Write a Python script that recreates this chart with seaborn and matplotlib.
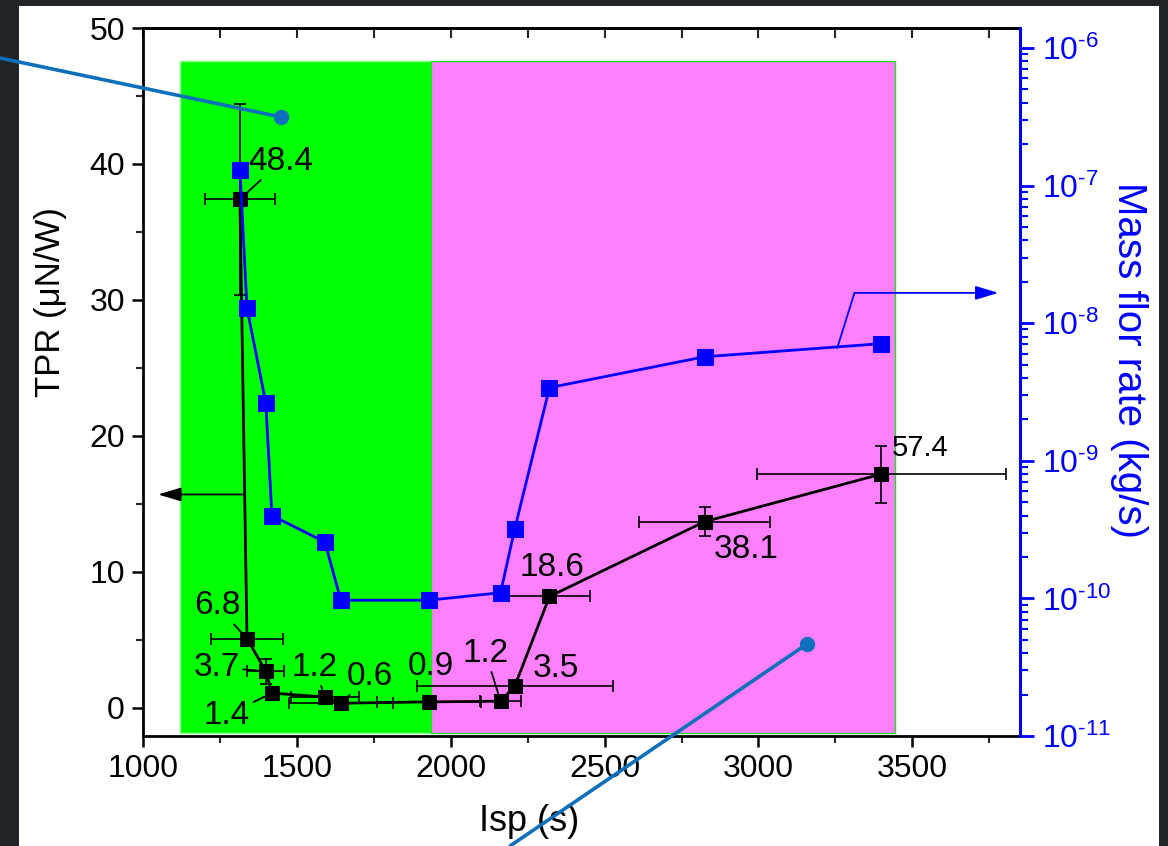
import numpy as np
import pandas as pd
import matplotlib
matplotlib.use("Agg")
import matplotlib.pyplot as plt
import seaborn as sns
from matplotlib.patches import Rectangle
from matplotlib.lines import Line2D
from matplotlib.ticker import (MultipleLocator, LogLocator, NullFormatter, FixedLocator,
                               FuncFormatter)

# ---------------- data ----------------
isp = [1315, 1338, 1399, 1419, 1591, 1643, 1929, 2162, 2208, 2321, 2825, 3399]
tpr = [37.4, 5.1, 2.7, 1.1, 0.8, 0.35, 0.45, 0.5, 1.6, 8.2, 13.7, 17.2]
isp_err = [115, 117, 60, 0, 110, 170, 170, 68, 318, 131, 213, 404]
tpr_err = [7.0, 0, 0.9, 0.4, 0, 0, 0, 0, 0.4, 0, 1.07, 2.1]
value_labels = ["48.4", "6.8", "3.7", "1.4", "1.2", "0.6", "0.9", "1.2", "3.5", "18.6", "38.1", "57.4"]
mass_flow = [1.3e-7, 1.29e-8, 2.63e-9, 4.0e-10, 2.57e-10, 9.7e-11, 9.7e-11, 1.1e-10,
             3.2e-10, 3.4e-9, 5.7e-9, 7.1e-9]

x_ticks = [1000, 1500, 2000, 2500, 3000, 3500]
y_ticks = [0, 10, 20, 30, 40, 50]
mass_ticks = [1e-11, 1e-10, 1e-9, 1e-8, 1e-7, 1e-6]

# shaded regimes (Isp ranges)
green_range = (1120, 1935)
pink_range = (1935, 3445)
region_tpr = (-1.84, 47.6)

# label offsets in pixels (dx, dy) and whether a leader line is drawn
label_offsets = [(41, 38), (-30, 33), (-49, 4), (-45, -22), (-10, 30), (29, 27),
                 (2, 35), (-15, 48), (41, 18), (2, 29), (42, -28), (39, 26)]
label_leader = [True, True, True, True, True, True, False, True, False, False, False, False]
label_sizes = [24] * 11 + [21]

# ---------------- style ----------------
sns.set_theme(style="ticks")
plt.rcParams["font.family"] = ["Liberation Sans", "DejaVu Sans"]
plt.rcParams["mathtext.fontset"] = "custom"
plt.rcParams["mathtext.rm"] = "Liberation Sans"
plt.rcParams["axes.unicode_minus"] = False

BLUE = "#0000ff"
W, H = 1168, 846
fig = plt.figure(figsize=(W / 100, H / 100), dpi=100)
fig.patch.set_facecolor("#212529")
fig.add_artist(Rectangle((19 / W, 0), (1159 - 19) / W, 1 - 6 / H, transform=fig.transFigure,
                         facecolor="white", edgecolor="none", zorder=-10))

ax = fig.add_axes([143 / W, 1 - 736 / H, (1020 - 143) / W, (736 - 28) / H])
ax.set_facecolor("white")
ax2 = ax.twinx()

# regimes
ax.add_patch(Rectangle((green_range[0], region_tpr[0]), green_range[1] - green_range[0],
                       region_tpr[1] - region_tpr[0], facecolor="#00ff00",
                       edgecolor="#88ff88", lw=1, zorder=0))
ax.add_patch(Rectangle((pink_range[0], region_tpr[0]), pink_range[1] - pink_range[0],
                       region_tpr[1] - region_tpr[0], facecolor="#ff80ff",
                       edgecolor="#22dd22", lw=1, zorder=0))

# TPR series
df = pd.DataFrame({"isp": isp, "tpr": tpr, "mass": mass_flow})
ax.errorbar(isp, tpr, xerr=isp_err, yerr=tpr_err, fmt="none", ecolor="black",
            elinewidth=1.2, capsize=4, capthick=1.2, zorder=3)
sns.lineplot(data=df, x="isp", y="tpr", ax=ax, color="black", marker="s", markersize=10,
             markeredgecolor="black", lw=2, sort=False, estimator=None, zorder=4)

for xi, yi, lab, (dx, dy), lead, fs in zip(isp, tpr, value_labels, label_offsets,
                                           label_leader, label_sizes):
    ap = dict(arrowstyle="-", color="black", lw=1.3, shrinkA=0, shrinkB=6) if lead else None
    ax.annotate(lab, xy=(xi, yi), xytext=(dx, dy), textcoords="offset pixels",
                ha="center", va="center", fontsize=fs, color="black",
                arrowprops=ap, zorder=6)

# left-pointing arrow for TPR axis
tpr_arrow_y = 15.7
ax.annotate("", xy=(1049, tpr_arrow_y), xytext=(1331, tpr_arrow_y),
            arrowprops=dict(arrowstyle="-|>,head_length=1.0,head_width=0.3", color="black",
                            lw=1.3, mutation_scale=14, shrinkA=0, shrinkB=0), zorder=5)

# mass flow series
ax2.set_yscale("log")
sns.lineplot(data=df, x="isp", y="mass", ax=ax2, color=BLUE, marker="s", markersize=11,
             markeredgecolor=BLUE, lw=2, sort=False, estimator=None, zorder=5)

# right-pointing arrow for mass flow axis
mf_arrow_start = (3256, 6.6e-9)
mf_arrow_corner = (3312, 1.66e-8)
mf_arrow_end = (3780, 1.66e-8)
ax2.plot([mf_arrow_start[0], mf_arrow_corner[0]], [mf_arrow_start[1], mf_arrow_corner[1]],
         color=BLUE, lw=1.3)
ax2.annotate("", xy=mf_arrow_end, xytext=mf_arrow_corner,
             arrowprops=dict(arrowstyle="-|>,head_length=1.0,head_width=0.3", color=BLUE,
                             lw=1.3, mutation_scale=14, shrinkA=0, shrinkB=0))

# ---------------- axes ----------------
ax.set_xlim(1000, 3850)
ax.set_ylim(-2.06, 50)
ax2.set_ylim(1e-11, 10 ** -5.855)
ax2.set_xlim(1000, 3850)

ax.xaxis.set_major_locator(FixedLocator(x_ticks))
ax.xaxis.set_minor_locator(MultipleLocator(250))
ax.yaxis.set_major_locator(FixedLocator(y_ticks))
ax.yaxis.set_minor_locator(MultipleLocator(5))

ax.tick_params(axis="both", which="major", direction="out", length=8, width=1.8,
               labelsize=23, colors="black", pad=5)
ax.tick_params(axis="both", which="minor", direction="out", length=5, width=1.5)
ax.tick_params(axis="y", right=False)
ax.tick_params(axis="x", top=False)

top = ax.secondary_xaxis("top")
top.xaxis.set_major_locator(MultipleLocator(250))
top.tick_params(axis="x", which="both", direction="in", length=7, width=1.5, labeltop=False)
top.spines["top"].set_linewidth(2)

for s in ["left", "bottom", "top"]:
    ax.spines[s].set_linewidth(2)
    ax.spines[s].set_color("black")
ax.spines["right"].set_visible(False)


def log_label(v, pos):
    e = int(round(np.log10(v)))
    sign = "\u2010" if e < 0 else ""
    return r"$\mathdefault{10^{%s%d}}$" % (sign, abs(e))


for s in ["left", "bottom", "top"]:
    ax2.spines[s].set_visible(False)
ax2.spines["right"].set_color(BLUE)
ax2.spines["right"].set_linewidth(2.2)
ax2.yaxis.set_major_locator(FixedLocator(mass_ticks))
ax2.yaxis.set_major_formatter(FuncFormatter(log_label))
minor_ticks = [m * t for t in mass_ticks for m in range(2, 10)
               if m * t < 10 ** -5.855]
ax2.yaxis.set_minor_locator(FixedLocator(minor_ticks))
ax2.yaxis.set_minor_formatter(NullFormatter())
ax2.tick_params(axis="y", which="major", direction="out", length=10, width=2,
                colors=BLUE, labelsize=23, pad=6)
ax2.tick_params(axis="y", which="minor", direction="out", length=6, width=1.5, colors=BLUE)
ax2.set_xlabel("")

ax.set_xlabel("Isp (s)", fontsize=26, color="black")
ax.xaxis.set_label_coords((529 - 143) / 877, (736 - 804) / 708)
ax.set_ylabel("TPR (\u03bcN/W)", fontsize=25, color="black")
ax.yaxis.set_label_coords((67 - 143) / 877, (736 - 302) / 708)
ax2.set_ylabel("Mass flor rate (kg/s)", fontsize=29, color=BLUE, rotation=270, va="bottom")
ax2.yaxis.set_label_coords((1110 - 143) / 877, (736 - 360) / 708)

# ---------------- overlay callout lines ----------------
CALLOUT = "#0e6fba"
callout1 = [(0, 58), (281, 117)]
callout2 = [(510, 846), (807, 644)]
for pts in (callout1, callout2):
    xs = [p[0] / W for p in pts]
    ys = [1 - p[1] / H for p in pts]
    fig.add_artist(Line2D(xs, ys, transform=fig.transFigure, color=CALLOUT, lw=2.6,
                          zorder=100, solid_capstyle="round"))
    fig.add_artist(Line2D([xs[1]], [ys[1]], transform=fig.transFigure, color=CALLOUT,
                          marker="o", markersize=10, zorder=101))

fig.savefig("out.png", dpi=100, facecolor=fig.get_facecolor())
